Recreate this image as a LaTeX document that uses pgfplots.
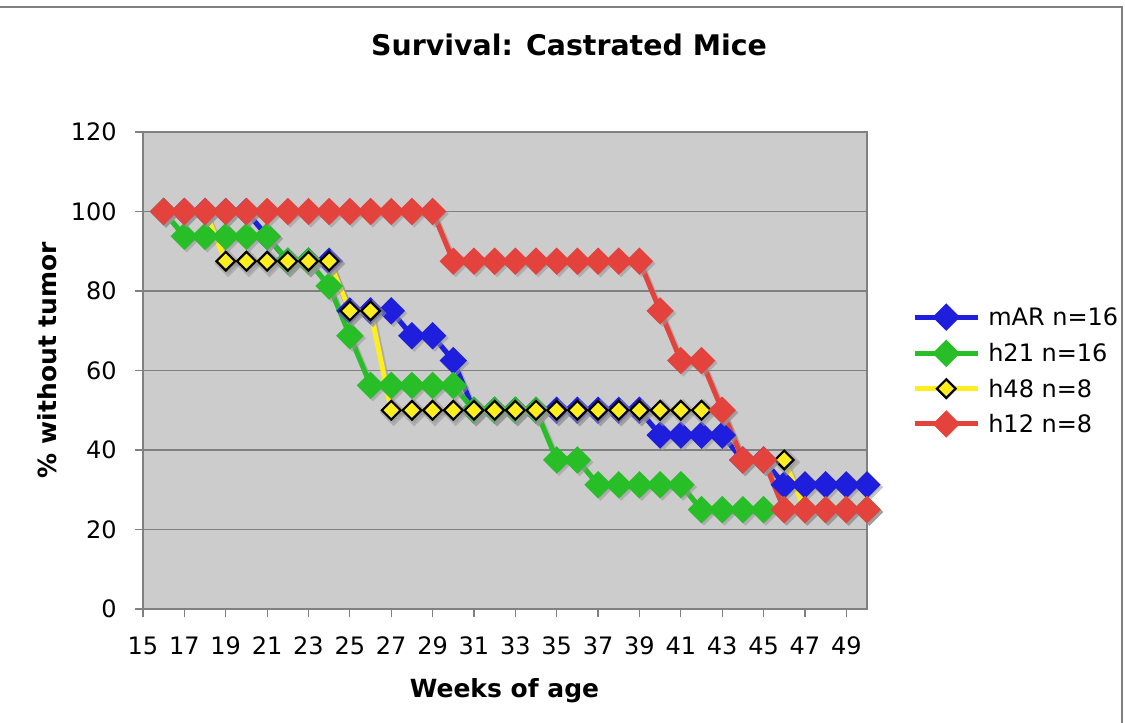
\documentclass[border=0pt]{standalone}
\usepackage{pgfplots}
\usepackage{pgfplotstable}
\pgfplotsset{compat=1.18}
\usepackage{fontspec}
\setmainfont{DejaVu Sans}
\definecolor{cblue}{RGB}{30,30,220}
\definecolor{cgreen}{RGB}{40,190,40}
\definecolor{cyellow}{RGB}{255,238,30}
\definecolor{cred}{RGB}{228,66,60}
\definecolor{plotbg}{RGB}{204,204,204}
\definecolor{gridc}{RGB}{128,128,128}
\definecolor{shadowc}{RGB}{150,150,150}

\pgfplotstableread{
x mAR h21 h48 h12
16 100 100 100 100
17 100 93.75 100 100
18 100 93.75 100 100
19 100 93.75 87.5 100
20 100 93.75 87.5 100
21 93.75 93.75 87.5 100
22 87.5 87.5 87.5 100
23 87.5 87.5 87.5 100
24 87.5 81.25 87.5 100
25 75 68.75 75 100
26 75 56.25 75 100
27 75 56.25 50 100
28 68.75 56.25 50 100
29 68.75 56.25 50 100
30 62.5 56.25 50 87.5
31 50 50 50 87.5
32 50 50 50 87.5
33 50 50 50 87.5
34 50 50 50 87.5
35 50 37.5 50 87.5
36 50 37.5 50 87.5
37 50 31.25 50 87.5
38 50 31.25 50 87.5
39 50 31.25 50 87.5
40 43.75 31.25 50 75
41 43.75 31.25 50 62.5
42 43.75 25 50 62.5
43 43.75 25 50 50
44 37.5 25 37.5 37.5
45 37.5 25 37.5 37.5
46 31.25 25 37.5 25
47 31.25 25 25 25
48 31.25 25 25 25
49 31.25 25 25 25
50 31.25 25 25 25
}\survdata

\pgfplotsset{
  shadowplot/.style={shadowc, opacity=0.55, forget plot, xshift=1.2pt, yshift=-1.2pt,
    line width=2.5pt, mark=square*, mark size=3.6pt, mark options={rotate=45, solid}},
}

\begin{document}
\begin{tikzpicture}
\path[use as bounding box] (-71.5pt,-57pt) rectangle (491pt,304.5pt);
\draw[gridc, line width=0.75pt] (-71.5pt,301pt) -- (489.5pt,301pt) -- (489.5pt,-57pt);
\begin{axis}[
  at={(0pt,0pt)}, anchor=south west,
  scale only axis, width=362pt, height=238.5pt,
  xmin=15, xmax=50, ymin=0, ymax=120,
  xtick={15,17,...,49}, ytick={0,20,...,120},
  axis background/.style={fill=plotbg},
  axis line style={gridc, line width=0.75pt},
  ymajorgrids, major grid style={gridc, line width=0.6pt},
  tick align=outside, major tick length=4pt, tick pos=left,
  tick style={gridc, line width=0.6pt},
  /pgf/number format/assume math mode=true,
  xticklabel style={font=\fontsize{12}{14}\selectfont, inner sep=0pt, anchor=north, yshift=-9.8pt},
  yticklabel style={font=\fontsize{12}{14}\selectfont, inner sep=0pt, anchor=east, xshift=-9pt},
  clip=false,
  legend style={at={(1.062,0.634)}, anchor=north west, draw=none, fill=none,
    font=\fontsize{12}{14}\selectfont, row sep=7.9pt, column sep=4pt, inner sep=0pt,
    nodes={inner sep=0pt, text height=8.6pt, text depth=0pt}},
  legend cell align=left,
  legend image code/.code={\draw[mark repeat=2,mark phase=2] plot coordinates {(0pt,0pt) (15.75pt,0pt) (31.5pt,0pt)};},
]
\addplot[shadowplot] table[x=x, y=mAR] {\survdata};
\addplot[cblue, line width=2.5pt, mark=square*, mark size=3.6pt, mark options={rotate=45, solid, fill=cblue}] table[x=x, y=mAR] {\survdata};
\addlegendentry{mAR n=16}
\addplot[shadowplot] table[x=x, y=h21] {\survdata};
\addplot[cgreen, line width=2.5pt, mark=square*, mark size=3.6pt, mark options={rotate=45, solid, fill=cgreen}] table[x=x, y=h21] {\survdata};
\addlegendentry{h21 n=16}
\addplot[shadowplot] table[x=x, y=h48] {\survdata};
\addplot[cyellow, line width=2.5pt, mark=square*, mark size=3.3pt, mark options={rotate=45, solid, fill=cyellow, draw=black, line width=1.1pt}] table[x=x, y=h48] {\survdata};
\addlegendentry{h48 n=8}
\addplot[shadowplot] table[x=x, y=h12] {\survdata};
\addplot[cred, line width=2.5pt, mark=square*, mark size=3.6pt, mark options={rotate=45, solid, fill=cred}] table[x=x, y=h12] {\survdata};
\addlegendentry{h12 n=8}
\end{axis}
\node[font=\fontsize{14.2}{16}\selectfont\bfseries] at (213pt,282pt) {Survival: Castrated Mice};
\node[font=\fontsize{12.5}{15}\selectfont\bfseries, anchor=base] at (180.75pt,-44pt) {Weeks of age};
\node[font=\fontsize{12.5}{15}\selectfont\bfseries, anchor=base, rotate=90] at (-43pt,124.5pt) {\% without tumor};
\end{tikzpicture}
\end{document}
